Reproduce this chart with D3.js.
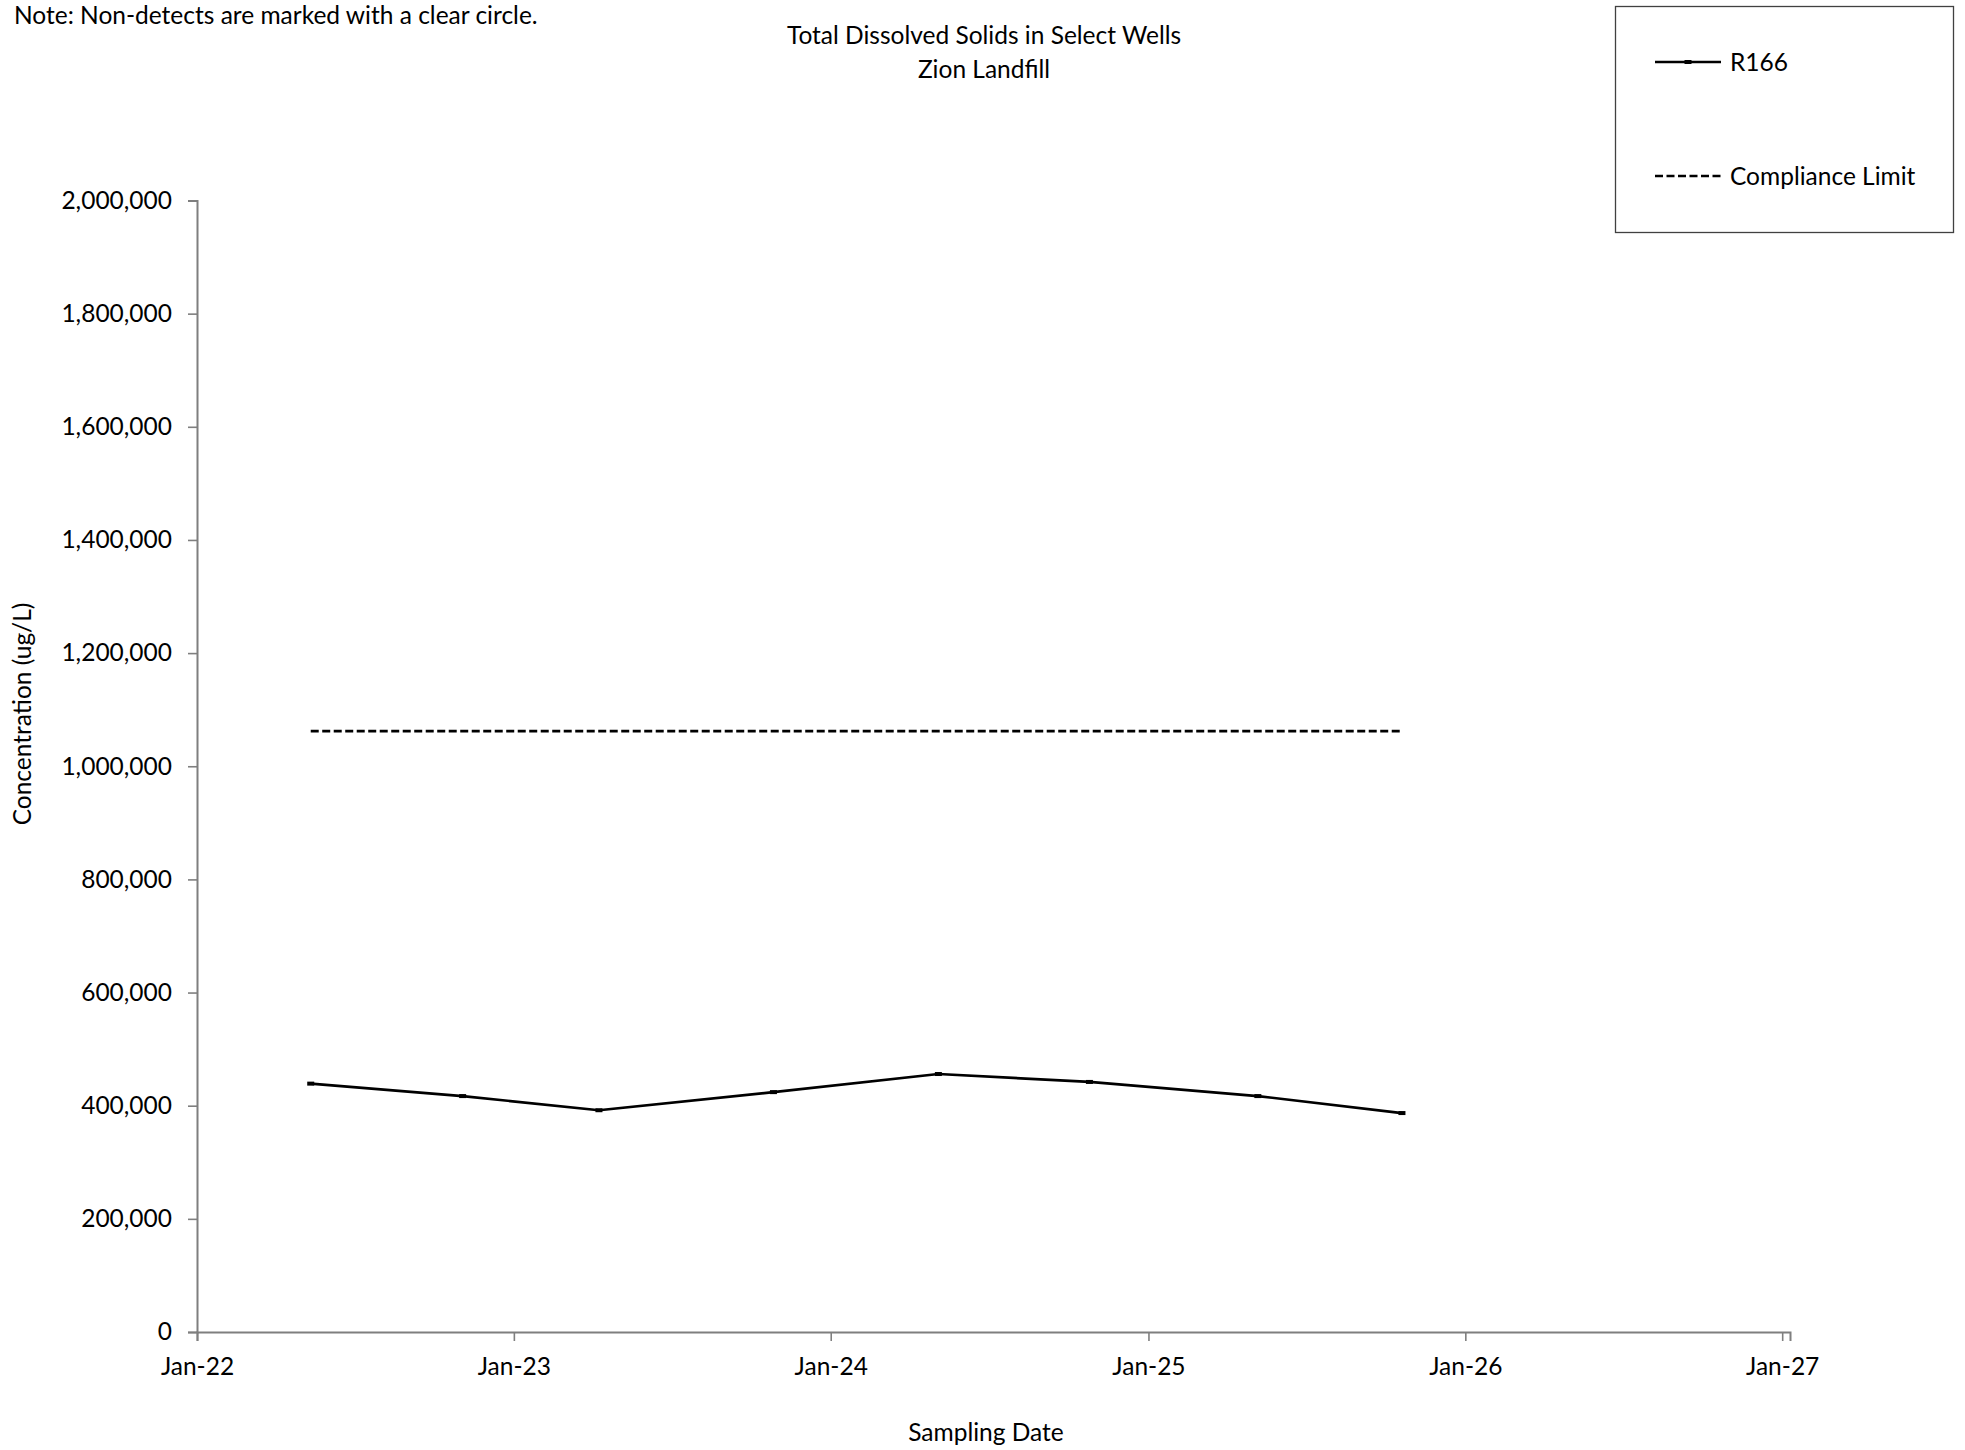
<!DOCTYPE html>
<html>
<head>
<meta charset="utf-8">
<script src="https://cdn.jsdelivr.net/npm/d3@7"></script>
<style>
  html, body { margin: 0; padding: 0; background: #fff; }
  svg { display: block; font-family: Lato, "Open Sans", sans-serif; }
</style>
</head>
<body>
<script>
// ---- data ----
const sampleDates = ["2022-05-12", "2022-11-03", "2023-04-09", "2023-10-27",
                     "2024-05-04", "2024-10-25", "2025-05-07", "2025-10-20"];
const r166Values = [439000, 417000, 392000, 424000, 456000, 442000, 417000, 387000];
const complianceLimit = 1062000;
const yTickValues = [0, 200000, 400000, 600000, 800000, 1000000, 1200000, 1400000, 1600000, 1800000, 2000000];
const xTickDates = ["2022-01-01", "2023-01-01", "2024-01-01", "2025-01-01", "2026-01-01", "2027-01-01"];
const seriesName = "R166";
const limitName = "Compliance Limit";
const titleLines = ["Total Dissolved Solids in Select Wells", "Zion Landfill"];
const noteText = "Note: Non-detects are marked with a clear circle.";
const xTitle = "Sampling Date";
const yTitle = "Concentration (ug/L)";

// ---- layout ----
const W = 1965, H = 1450;
const parse = d3.utcParse("%Y-%m-%d");
const data = sampleDates.map((d, i) => ({ date: parse(d), value: r166Values[i] }));

const svg = d3.select("body").append("svg").attr("width", W).attr("height", H);

const x = d3.scaleUtc()
  .domain([parse("2022-01-01"), parse("2027-01-10")])
  .range([197, 1790]);
const y = d3.scaleLinear().domain([0, 2000000]).range([1332, 200.5]);

const axisColor = "#7f7f7f";
const fs = 24.5;

// x axis
const xAxis = svg.append("g").attr("transform", `translate(0,${y(0)})`)
  .call(d3.axisBottom(x).tickValues(xTickDates.map(parse)).tickFormat(d3.utcFormat("%b-%y")).tickSizeOuter(0).tickSize(9).tickPadding(17));
xAxis.select(".domain").attr("stroke", axisColor).attr("stroke-width", 2);
xAxis.selectAll(".tick line").attr("stroke", axisColor).attr("stroke-width", 1.6);
xAxis.selectAll(".tick text").attr("fill", "#000").attr("font-size", fs).attr("font-family", "Lato");

// y axis
const yAxis = svg.append("g").attr("transform", `translate(${x.range()[0]},0)`)
  .call(d3.axisLeft(y).tickValues(yTickValues).tickFormat(d3.format(",")).tickSizeOuter(0).tickSize(9).tickPadding(16));
yAxis.select(".domain").attr("stroke", axisColor).attr("stroke-width", 2);
yAxis.selectAll(".tick line").attr("stroke", axisColor).attr("stroke-width", 1.6);
yAxis.selectAll(".tick text").attr("fill", "#000").attr("font-size", fs).attr("font-family", "Lato");

// compliance limit
svg.append("line")
  .attr("x1", x(data[0].date)).attr("x2", x(data[data.length - 1].date))
  .attr("y1", y(complianceLimit)).attr("y2", y(complianceLimit))
  .attr("stroke", "#000").attr("stroke-width", 2.6).attr("stroke-dasharray", "8,3.5");

// series line
const line = d3.line().x(d => x(d.date)).y(d => y(d.value));
svg.append("path").datum(data).attr("d", line)
  .attr("fill", "none").attr("stroke", "#000").attr("stroke-width", 2.7).attr("stroke-linejoin", "round");

svg.append("g").selectAll("rect").data(data).join("rect")
  .attr("x", d => x(d.date) - 3.5).attr("y", d => y(d.value) - 2)
  .attr("width", 7).attr("height", 4).attr("fill", "#000");

// titles
svg.append("text").attr("x", 14).attr("y", 24).attr("font-size", fs).text(noteText);
svg.append("text").attr("x", 984).attr("y", 43.5).attr("text-anchor", "middle").attr("font-size", fs).text(titleLines[0]);
svg.append("text").attr("x", 984).attr("y", 77.5).attr("text-anchor", "middle").attr("font-size", fs).text(titleLines[1]);
svg.append("text").attr("x", 986).attr("y", 1440.5).attr("text-anchor", "middle").attr("font-size", fs).text(xTitle);
svg.append("text").attr("transform", "translate(31,714) rotate(-90)").attr("text-anchor", "middle").attr("font-size", fs).text(yTitle);

// legend
const lg = svg.append("g");
lg.append("rect").attr("x", 1615.5).attr("y", 6.5).attr("width", 338).attr("height", 226)
  .attr("fill", "#fff").attr("stroke", "#404040").attr("stroke-width", 1.3);
lg.append("line").attr("x1", 1655).attr("x2", 1721).attr("y1", 62).attr("y2", 62)
  .attr("stroke", "#000").attr("stroke-width", 2.7);
lg.append("rect").attr("x", 1688 - 3.5).attr("y", 60).attr("width", 7).attr("height", 4).attr("fill", "#000");
lg.append("text").attr("x", 1730).attr("y", 62).attr("dy", "0.35em").attr("font-size", fs).text(seriesName);
lg.append("line").attr("x1", 1655).attr("x2", 1721).attr("y1", 176).attr("y2", 176)
  .attr("stroke", "#000").attr("stroke-width", 2.6).attr("stroke-dasharray", "8,3.5");
lg.append("text").attr("x", 1730).attr("y", 176).attr("dy", "0.35em").attr("font-size", fs).text(limitName);
</script>
</body>
</html>
